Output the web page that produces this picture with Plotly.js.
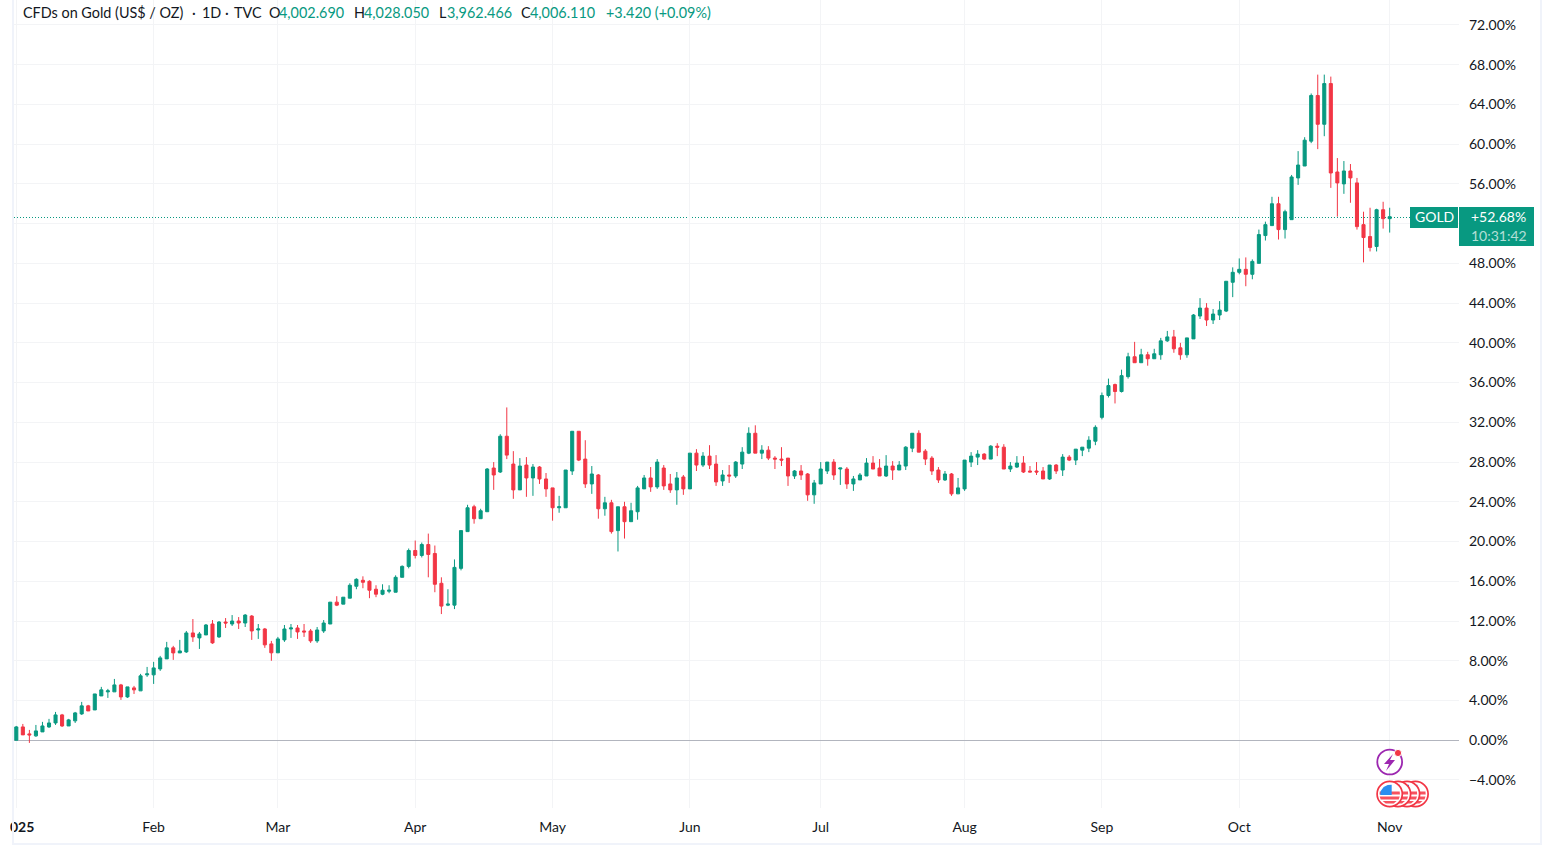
<!DOCTYPE html>
<html><head><meta charset="utf-8">
<script src="https://cdn.plot.ly/plotly-3.0.1.min.js"></script>
<style>
html,body{margin:0;padding:0;background:#fff;overflow:hidden}
#chart{position:absolute;left:0;top:0;width:1553px;height:856px}
.f{position:absolute;background:#f0f3fa;z-index:5}
</style></head><body>
<div id="chart"></div>
<div class="f" style="left:0;top:0;width:10px;height:856px;background:#fff"></div>
<div class="f" style="left:12px;top:0;width:2px;height:845px"></div>
<div class="f" style="left:1540px;top:0;width:2px;height:845px"></div>
<div class="f" style="left:12px;top:843px;width:1530px;height:2px"></div>
<script>
var openPct=[
0,1.34,.64,.44,.84,1.34,1.74,2.55,1.44,1.95,
2.65,3.46,3.05,4.46,4.87,4.87,5.57,4.36,5.27,4.97,
6.58,6.58,7.18,8.19,9.3,8.79,8.89,10.8,10.3,10.6,
11.7,10.4,11.9,11.7,12.0,11.8,12.5,11.1,11.2,9.7,
8.8,10.1,11.2,11.3,11.0,11.0,10.0,11.0,11.7,13.9,
13.7,14.3,15.5,16.1,16.0,15.2,14.7,15.0,14.9,16.4,
17.5,19.1,18.6,19.7,18.8,15.8,13.6,13.6,17.3,21.0,
23.5,22.3,23.0,27.4,27.0,30.6,27.8,25.2,27.7,26.4,
27.5,26.3,25.4,23.4,23.4,27.1,31.1,28.3,25.8,26.7,
23.3,23.9,21.1,23.5,22.0,23.0,25.3,26.4,25.5,27.4,
25.8,25.2,26.5,25.3,28.9,27.7,28.6,27.8,26.1,26.7,
26.6,27.8,28.9,30.9,28.9,29.2,28.4,28.3,28.4,26.6,
27.1,26.8,24.7,25.8,27.1,28.0,27.3,27.3,25.8,26.2,
26.6,27.9,27.4,26.6,27.6,27.2,27.6,29.4,30.9,29.1,
28.4,27.2,26.2,26.8,24.8,25.3,28.0,28.5,28.8,28.3,
29.6,29.5,27.3,27.5,27.9,27.1,27.1,27.1,26.3,27.7,
27.2,28.5,28.2,29.2,29.4,30.1,32.5,34.7,35.8,35.1,
36.6,38.6,38.0,38.8,38.4,38.8,40.2,40.6,39.5,38.8,
40.4,42.7,43.5,42.3,42.8,43.2,46.1,47.1,47.4,46.9,
48.0,50.8,51.8,54.0,51.4,52.4,56.6,57.8,60.3,64.9,
62.0,66.1,57.2,56.0,57.3,56.1,51.9,50.7,49.7,53.4,52.5];
var highPct=[
1.44,1.64,1.04,1.54,1.85,2.15,2.85,2.65,2.15,2.85,
3.86,3.56,4.66,5.37,5.17,6.17,5.67,5.37,5.47,6.68,
7.38,7.89,8.49,9.9,9.5,10.1,11.0,12.2,10.9,11.7,
12.1,12.0,12.3,12.6,12.4,12.7,12.6,11.7,11.3,10.0,
10.4,11.6,11.7,11.6,11.7,11.2,11.4,12.1,13.9,14.5,
14.4,15.8,16.3,16.5,16.1,15.6,15.7,15.6,16.6,17.6,
19.3,20.1,19.9,20.8,19.6,16.4,15.2,18.2,21.1,23.7,
23.7,23.3,27.4,28.0,30.8,33.5,29.1,28.4,28.5,27.8,
27.6,26.9,25.4,24.6,27.2,31.1,31.1,30.2,27.6,26.8,
24.5,24.2,23.5,24.0,23.9,25.6,26.7,27.5,28.3,27.7,
26.8,27.0,26.7,28.9,29.3,29.0,29.7,28.7,27.2,27.7,
28.1,29.5,31.5,31.7,29.7,29.6,28.6,29.5,28.4,27.2,
27.7,26.9,26.2,28.0,28.0,28.3,27.4,27.5,26.6,26.9,
28.4,28.6,28.3,28.7,28.1,28.1,29.6,30.9,31.2,29.3,
28.6,27.5,27.1,26.9,26.4,28.2,29.0,29.2,28.9,29.7,
29.9,29.8,28.0,28.6,28.6,27.6,28.0,27.5,27.7,27.8,
28.8,28.7,29.3,29.5,30.6,31.7,35.0,36.4,35.9,37.3,
39.0,40.1,39.4,39.1,39.4,40.5,41.2,41.3,40.0,40.5,
42.9,44.5,44.0,43.4,44.2,46.2,47.6,48.5,48.6,48.4,
51.4,52.2,54.7,54.7,53.4,56.9,59.3,60.7,65.1,67.0,
67.0,66.8,58.6,58.3,58.0,56.6,53.2,53.6,53.5,54.2,53.6];
var lowPct=[
0,.54,-.27,.34,.84,1.24,1.54,1.34,1.44,1.74,
2.55,2.95,3.05,4.46,4.26,4.87,4.06,4.26,4.66,4.97,
6.38,5.67,6.98,8.19,8.09,8.79,8.79,9.9,9.19,10.6,
9.7,10.3,11.3,11.5,11.2,11.4,10.1,10.2,9.3,8.0,
8.8,9.9,10.3,10.2,10.4,9.8,9.8,10.8,11.7,13.5,
13.7,14.3,15.2,15.3,14.3,14.4,14.6,14.8,14.9,16.4,
17.3,18.3,18.4,16.4,14.9,12.7,13.5,13.2,17.1,21.0,
21.8,22.3,23.0,25.2,26.9,28.3,24.3,25.2,24.5,24.6,
25.8,24.5,22.1,22.9,23.4,26.7,28.1,25.4,24.8,22.3,
22.6,20.8,19.0,20.3,22.0,22.2,25.3,25.0,25.3,25.2,
24.9,23.7,24.7,25.3,27.1,27.5,27.3,25.6,25.6,25.9,
26.4,27.3,28.8,28.9,28.3,28.2,27.3,27.6,25.6,26.3,
26.2,24.1,23.8,25.8,26.8,26.2,25.7,25.3,25.1,26.2,
26.6,27.3,26.6,26.5,26.2,27.2,27.2,29.0,29.0,27.7,
26.7,25.9,26.1,24.6,24.8,25.1,27.5,27.7,28.2,28.3,
28.6,27.3,27.0,27.4,26.9,27.0,26.7,26.3,26.2,26.8,
26.6,28.1,27.7,28.6,29.0,29.7,32.3,34.5,33.9,35.0,
36.4,38.0,38.0,37.7,38.4,38.3,40.1,39.0,38.3,38.5,
40.4,42.4,41.7,41.9,42.3,43.1,44.6,46.9,45.7,46.4,
48.0,50.3,51.8,50.4,50.5,52.4,55.9,57.8,60.1,59.5,
60.8,55.6,52.7,55.0,54.1,51.4,48.1,49.2,49.2,51.5,51.1];
var closePct=[
1.34,.54,.54,.94,1.44,1.74,2.55,1.44,2.05,2.75,
3.46,2.95,4.66,5.07,4.97,5.57,4.36,5.37,5.07,6.48,
6.68,7.28,8.29,9.3,8.79,8.99,10.8,10.4,10.7,11.6,
9.8,11.9,11.8,12.0,11.8,12.6,11.0,11.2,9.6,8.8,
10.2,11.2,11.3,10.9,10.9,10.0,11.1,11.8,13.9,13.6,
14.4,15.6,16.2,15.9,15.1,14.7,15.1,15.1,16.4,17.5,
19.1,18.6,19.7,18.7,15.7,13.5,13.7,17.4,21.1,23.4,
22.3,23.1,27.3,26.7,30.6,28.7,25.2,27.6,26.4,27.5,
26.3,25.3,23.4,23.5,27.2,31.1,28.2,25.8,26.8,23.3,
23.9,21.0,23.5,22.0,23.1,25.4,26.4,25.5,28.0,25.6,
25.2,26.4,25.3,28.9,27.7,28.6,27.7,26.0,26.7,26.6,
28.0,29.0,30.9,28.9,29.2,28.4,28.3,28.2,26.6,27.1,
26.7,24.7,25.9,27.3,28.0,26.7,27.4,25.8,26.3,26.7,
27.9,27.3,26.6,27.6,27.2,27.7,29.5,30.9,29.0,28.3,
27.1,26.2,26.8,24.8,25.4,28.2,28.6,28.8,28.3,29.6,
29.5,27.3,27.6,27.9,27.0,27.0,27.0,26.3,27.7,27.1,
28.5,28.2,29.3,29.5,30.2,31.5,34.7,35.7,35.1,36.7,
38.6,38.0,38.8,38.4,38.9,40.2,40.6,39.4,38.8,40.5,
42.8,43.5,42.3,42.9,43.3,46.2,47.1,47.4,46.9,48.2,
50.9,51.9,54.0,51.4,53.2,56.7,57.9,60.4,64.9,62.0,
66.1,57.1,56.1,57.3,56.6,51.7,50.6,49.6,53.4,52.5,52.7];
var sessionIndex=openPct.map(function(_,i){return i;});
var monthTicks=[0,21,40,61,82,103,123,145,166,187,210];
var monthLabels=['\u00a0<b>2025</b>','Feb','Mar','Apr','May','Jun','Jul','Aug','Sep','Oct','Nov'];
var pctTicks=[-4,0,4,8,12,16,20,24,28,32,36,40,44,48,52,56,60,64,68,72];
var pctLabels=['\u22124.00%','0.00%','4.00%','8.00%','12.00%','16.00%','20.00%','24.00%','28.00%','32.00%','36.00%','40.00%','44.00%','48.00%','','56.00%','60.00%','64.00%','68.00%','72.00%'];
var UP='#089981',DOWN='#f23645',INK='#131722',FONT='"Lato","Open Sans",sans-serif';

var L=14,R=1459,B=808,T=0;
function px(x){return (x-L)/(R-L);}
function py(y){return 1-(y-T)/(B-T);}
function rectS(x0,y0,x1,y1,fill,line,w){return {type:'rect',xref:'paper',yref:'paper',layer:'above',x0:px(x0),x1:px(x1),y0:py(y1),y1:py(y0),fillcolor:fill,line:{color:line||fill,width:w===undefined?0:w}};}
function circS(cx,cy,r,fill,line,w){return {type:'circle',xref:'paper',yref:'paper',layer:'above',x0:px(cx-r),x1:px(cx+r),y0:py(cy+r),y1:py(cy-r),fillcolor:fill,line:{color:line||fill,width:w===undefined?0:w}};}
function polyS(pts,fill){var s='M'+pts.map(function(p){return px(p[0])+','+py(p[1]);}).join('L')+'Z';return {type:'path',xref:'paper',yref:'paper',layer:'above',path:s,fillcolor:fill,line:{width:0}};}
function flag(cx,cy){
  return [circS(cx,cy,12.6,'#fff','#f23645',1.7),
    polyS([[cx-10,cy-2.5],[cx+10,cy-2.5],[cx+10.2,cy+0.5],[cx-10.2,cy+0.5]],'#f7525f'),
    polyS([[cx-10,cy+2.5],[cx+10,cy+2.5],[cx+9,cy+5.5],[cx-9,cy+5.5]],'#f7525f'),
    polyS([[cx-7,cy+7],[cx+7,cy+7],[cx+4,cy+9.5],[cx-4,cy+9.5]],'#f7525f'),
    polyS([[cx-9.5,cy+1],[cx-9,cy-3],[cx-6,cy-7],[cx-2,cy-9],[cx+2,cy-9.2],[cx+2,cy+1]],'#2a8ef0')];
}
var shapes=[
 {type:'line',xref:'paper',yref:'paper',x0:0,x1:1,y0:py(217.5),y1:py(217.5),layer:'below',line:{color:UP,width:1,dash:'1px,2px'}},
 rectS(1410,207,1458,228,UP),
 rectS(1459,207,1534,246,UP),
 circS(1389.7,762,12.4,'rgba(0,0,0,0)','#9c27b0',1.8),
 polyS([[1393,754],[1384,764],[1389,764],[1386,771],[1395,760],[1390,760]],'#9c27b0'),
 circS(1398,753,3.6,'#f23645','#fff',1)
].concat(flag(1415.5,794),flag(1407,794),flag(1398,794),flag(1389.7,794));

function ann(x,y,t,col,size,anchor){return {xref:'paper',yref:'paper',x:px(x),y:py(y),text:t,showarrow:false,xanchor:anchor||'left',yanchor:'middle',font:{family:FONT,size:size||14.4,color:col||INK}};}
var headerText=['CFDs on Gold (US$ / OZ)','\u00b7','1D','\u00b7','TVC','O','4,002.690','H','4,028.050','L','3,962.466','C','4,006.110','+3.420 (+0.09%)'];
var anns=[
 ann(21,12,headerText[0]),
 ann(190,12,headerText[1]),ann(200,12,headerText[2]),ann(223,12,headerText[3]),ann(232,12,headerText[4]),
 ann(267,12,headerText[5]),ann(277,12,headerText[6],UP),
 ann(352,12,headerText[7]),ann(362,12,headerText[8],UP),
 ann(437,12,headerText[9]),ann(445,12,headerText[10],UP),
 ann(519,12,headerText[11]),ann(528,12,headerText[12],UP),
 ann(604,12,headerText[13],UP),
 ann(1434,216.5,'GOLD','#fff',14,'center'),
 ann(1498,216.5,'+52.68%','#fff',14,'center'),
 ann(1499,235.5,'10:31:42','rgba(255,255,255,0.7)',14,'center')
];

Plotly.newPlot('chart',[{
  type:'candlestick',x:sessionIndex,open:openPct,high:highPct,low:lowPct,close:closePct,
  increasing:{line:{color:UP,width:1},fillcolor:UP},
  decreasing:{line:{color:DOWN,width:1},fillcolor:DOWN},
  whiskerwidth:0,hoverinfo:'skip',showlegend:false
}],{
  width:1553,height:856,margin:{l:L,r:1553-R,t:T,b:856-B,pad:0},
  paper_bgcolor:'#fff',plot_bgcolor:'#fff',boxgap:0.33,showlegend:false,
  font:{family:FONT,size:14,color:INK},
  xaxis:{type:'linear',range:[-0.352,220.6],tickmode:'array',tickvals:monthTicks,ticktext:monthLabels,
    showgrid:true,gridcolor:'#f3f4f6',gridwidth:1,zeroline:false,showline:false,ticks:'',ticklabeloverflow:'allow',
    rangeslider:{visible:false},tickfont:{family:FONT,size:14,color:INK},ticklabelstandoff:9,fixedrange:true},
  yaxis:{type:'linear',side:'right',range:[-6.82,74.51],tickmode:'array',tickvals:pctTicks,ticktext:pctLabels,
    showgrid:true,gridcolor:'#f3f4f6',gridwidth:1,zeroline:true,zerolinecolor:'#b2b5be',zerolinewidth:1,showline:false,ticks:'',
    tickfont:{family:FONT,size:14,color:INK},ticklabelstandoff:9,fixedrange:true},
  shapes:shapes,annotations:anns
},{displayModeBar:false,staticPlot:true});
</script>
</body></html>
